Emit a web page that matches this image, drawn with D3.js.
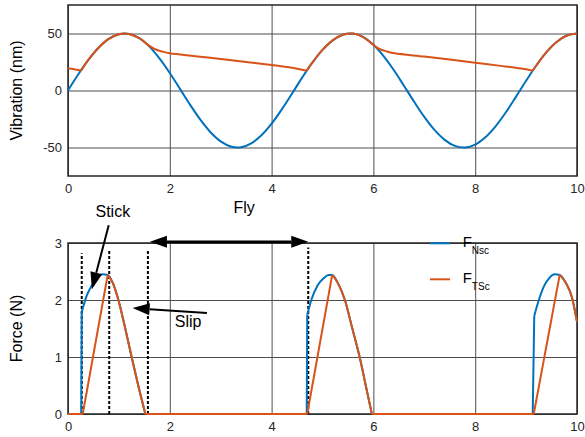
<!DOCTYPE html>
<html>
<head>
<meta charset="utf-8">
<script src="https://cdnjs.cloudflare.com/ajax/libs/d3/7.8.5/d3.min.js"></script>
<style>
  body { margin: 0; background: #fff; }
  svg { display: block; font-family: "Liberation Sans", Arial, sans-serif; }
  .grid line { stroke: #4d4d4d; stroke-width: 1; }
  .grid path, .ticks path { display: none; }
  .ticks text { fill: #262626; font-size: 13px; }
</style>
</head>
<body>
<div id="chart"></div>
<script>
var xTicks = [0, 2, 4, 6, 8, 10];
var vibTicks = [-50, 0, 50];
var forceTicks = [0, 1, 2, 3];

// vibration, blue (no coating), sampled every 0.2
var vibTime = [0, 0.2, 0.4, 0.6, 0.8, 1, 1.2, 1.4, 1.6, 1.8, 2, 2.2, 2.4, 2.6, 2.8, 3, 3.2, 3.4, 3.6, 3.8,
  4, 4.2, 4.4, 4.6, 4.8, 5, 5.2, 5.4, 5.6, 5.8, 6, 6.2, 6.4, 6.6, 6.8, 7, 7.2, 7.4, 7.6, 7.8,
  8, 8.2, 8.4, 8.6, 8.8, 9, 9.2, 9.4, 9.6, 9.8, 10];
var vibNsc = [0, 14.0, 26.8, 37.5, 45.3, 49.4, 49.6, 45.9, 38.5, 28.0, 15.4, 1.4, -12.6, -25.6, -36.6, -44.6, -49.2, -49.8, -46.4, -39.3,
  -29.1, -16.6, -2.8, 11.3, 24.4, 35.6, 44.0, 48.9, 49.9, 46.9, 40.1, 30.2, 18.0, 4.2, -9.8, -23.2, -34.6, -43.3, -48.6, -50.0,
  -47.4, -41.0, -31.4, -19.3, -5.6, 8.5, 21.9, 33.6, 42.6, 48.2, 50.0];

// vibration, orange (coated), split where the curve has a corner
var vibTsc = [
  [[0, 19.5], [0.26, 17.6]],
  [[0.26, 17.6], [0.4, 26.8], [0.6, 37.5], [0.8, 45.3], [1.0, 49.4], [1.2, 49.6], [1.4, 45.9], [1.58, 39.8],
   [1.7, 36.4], [1.85, 34.2], [2.0, 32.6], [2.5, 30.1], [3.0, 27.6], [3.5, 25.1], [4.0, 22.4], [4.4, 19.9], [4.69, 17.4]],
  [[4.69, 17.4], [4.8, 24.4], [5.0, 35.6], [5.2, 44.0], [5.4, 48.9], [5.6, 49.9], [5.8, 46.9], [6.0, 40.0],
   [6.12, 36.4], [6.27, 34.2], [6.42, 32.6], [7.0, 29.8], [7.5, 27.2], [8.0, 24.4], [8.5, 21.6], [8.9, 19.2], [9.13, 17.4]],
  [[9.13, 17.4], [9.2, 21.9], [9.4, 33.6], [9.6, 42.6], [9.8, 48.2], [10, 50.0]]
];

// contact force, blue F_Nsc
var forceNsc = [
  [[0, 0], [0.26, 0]],
  [[0.26, 0], [0.27, 1.79]],
  [[0.27, 1.79], [0.37, 2.08], [0.47, 2.26], [0.57, 2.38], [0.67, 2.45], [0.78, 2.44], [0.88, 2.3], [0.99, 2.0],
   [1.12, 1.52], [1.25, 1.0], [1.38, 0.5], [1.52, 0]],
  [[1.52, 0], [4.69, 0]],
  [[4.69, 0], [4.70, 1.74]],
  [[4.70, 1.74], [4.78, 2.0], [4.9, 2.25], [5.02, 2.38], [5.12, 2.44], [5.19, 2.44], [5.3, 2.3], [5.44, 2.0],
   [5.58, 1.52], [5.73, 1.0], [5.85, 0.5], [5.97, 0]],
  [[5.97, 0], [9.13, 0]],
  [[9.13, 0], [9.16, 1.72]],
  [[9.16, 1.72], [9.25, 2.0], [9.35, 2.24], [9.45, 2.38], [9.56, 2.45], [9.66, 2.44], [9.78, 2.3], [9.9, 2.05], [10, 1.62]]
];

// contact force, orange F_TSc
var forceTsc = [
  [[0, 0], [0.29, 0]],
  [[0.29, 0], [0.78, 2.44]],
  [[0.78, 2.44], [0.88, 2.3], [0.99, 2.0], [1.12, 1.52], [1.25, 1.0], [1.38, 0.5], [1.52, 0]],
  [[1.52, 0], [4.70, 0]],
  [[4.70, 0], [5.19, 2.44]],
  [[5.19, 2.44], [5.3, 2.3], [5.44, 2.0], [5.58, 1.52], [5.73, 1.0], [5.85, 0.5], [5.97, 0]],
  [[5.97, 0], [9.15, 0]],
  [[9.15, 0], [9.66, 2.44]],
  [[9.66, 2.44], [9.78, 2.3], [9.9, 2.05], [10, 1.62]]
];

// dotted markers in the force plot: x position and top
var phaseX = [0.27, 0.81, 1.57, 4.72];
var phaseTop = [2.82, 2.87, 2.87, 2.92];

var legendNames = ["Nsc", "TSc"];
var blue = "#0072bd", orange = "#d95319";

var svg = d3.select("#chart").append("svg")
  .attr("width", 585)
  .attr("height", 437);

var x1 = d3.scaleLinear().domain([0, 10]).range([68, 577]);
var y1 = d3.scaleLinear().domain([-75, 75]).range([176, 5]);
var x2 = d3.scaleLinear().domain([0, 10]).range([68, 577]);
var y2 = d3.scaleLinear().domain([0, 3]).range([414, 243]);

var plain = function(d) { return String(d); };

function panel(x, y, yTicks) {
  var top = y.range()[1], bottom = y.range()[0];
  var left = x.range()[0], right = x.range()[1];

  svg.append("g")
    .attr("class", "grid")
    .attr("transform", "translate(0," + bottom + ")")
    .call(d3.axisBottom(x).tickValues(xTicks).tickSize(-(bottom - top)).tickFormat(""));
  svg.append("g")
    .attr("class", "grid")
    .attr("transform", "translate(" + left + ",0)")
    .call(d3.axisLeft(y).tickValues(yTicks).tickSize(-(right - left)).tickFormat(""));

  svg.append("g")
    .attr("class", "ticks")
    .attr("transform", "translate(0," + bottom + ")")
    .call(d3.axisBottom(x).tickValues(xTicks).tickFormat(plain).tickSize(0).tickPadding(8));
  svg.append("g")
    .attr("class", "ticks")
    .attr("transform", "translate(" + left + ",0)")
    .call(d3.axisLeft(y).tickValues(yTicks).tickFormat(plain).tickSize(0).tickPadding(6));

  svg.append("rect")
    .attr("x", left)
    .attr("y", top)
    .attr("width", right - left)
    .attr("height", bottom - top)
    .style("fill", "none")
    .style("stroke", "#262626")
    .style("stroke-width", 1.5);
}

panel(x1, y1, vibTicks);
panel(x2, y2, forceTicks);

// top plot curves
svg.append("path")
  .datum(vibTime.map(function(t, i) { return [t, vibNsc[i]]; }))
  .attr("d", d3.line().x(function(d) { return x1(d[0]); }).y(function(d) { return y1(d[1]); }).curve(d3.curveCatmullRom))
  .style("fill", "none")
  .style("stroke", blue)
  .style("stroke-width", 2);

svg.append("g").selectAll("path")
  .data(vibTsc)
  .enter()
  .append("path")
  .attr("d", d3.line().x(function(d) { return x1(d[0]); }).y(function(d) { return y1(d[1]); }).curve(d3.curveCatmullRom))
  .style("fill", "none")
  .style("stroke", orange)
  .style("stroke-width", 2);

// bottom plot: dotted phase markers
svg.append("g").selectAll("line")
  .data(phaseX)
  .enter()
  .append("line")
  .attr("x1", function(d) { return x2(d); })
  .attr("x2", function(d) { return x2(d); })
  .attr("y1", y2(0))
  .attr("y2", function(d, i) { return y2(phaseTop[i]); })
  .style("stroke", "#000")
  .style("stroke-width", 2)
  .style("stroke-dasharray", "3,2");

var forceLine = d3.line()
  .x(function(d) { return x2(d[0]); })
  .y(function(d) { return y2(d[1]); })
  .curve(d3.curveMonotoneX);

svg.append("g").selectAll("path")
  .data(forceNsc)
  .enter()
  .append("path")
  .attr("d", forceLine)
  .style("fill", "none")
  .style("stroke", blue)
  .style("stroke-width", 2);

svg.append("g").selectAll("path")
  .data(forceTsc)
  .enter()
  .append("path")
  .attr("d", forceLine)
  .style("fill", "none")
  .style("stroke", orange)
  .style("stroke-width", 2);

// annotations
function arrow(p0, p1, both, width) {
  var a = [x2(p0[0]), y2(p0[1])], b = [x2(p1[0]), y2(p1[1])];
  var dx = b[0] - a[0], dy = b[1] - a[1], len = Math.hypot(dx, dy);
  var ux = dx / len, uy = dy / len, hl = 17, hw = 6;
  var s = both ? [a[0] + ux * hl, a[1] + uy * hl] : a;
  var e = [b[0] - ux * hl, b[1] - uy * hl];
  svg.append("line")
    .attr("x1", s[0]).attr("y1", s[1])
    .attr("x2", e[0]).attr("y2", e[1])
    .style("stroke", "#000")
    .style("stroke-width", width);
  function head(tip, vx, vy) {
    var bx = tip[0] - vx * hl, by = tip[1] - vy * hl;
    svg.append("path")
      .attr("d", "M" + tip[0] + "," + tip[1] +
        "L" + (bx - vy * hw) + "," + (by + vx * hw) +
        "L" + (bx + vy * hw) + "," + (by - vx * hw) + "Z")
      .style("fill", "#000");
  }
  head(b, ux, uy);
  if (both) head(a, -ux, -uy);
}

arrow([0.80, 3.31], [0.47, 2.19], false, 2);
arrow([2.73, 1.77], [1.27, 1.86], false, 2);
arrow([1.61, 3.02], [4.72, 3.02], true, 2.5);

var notes = [["Stick", 0.88, 3.46], ["Slip", 2.36, 1.53], ["Fly", 3.46, 3.52]];
svg.append("g").selectAll("text")
  .data(notes)
  .enter()
  .append("text")
  .attr("x", function(d) { return x2(d[1]); })
  .attr("y", function(d) { return y2(d[2]); })
  .attr("text-anchor", "middle")
  .style("font-size", "16px")
  .style("fill", "#000")
  .text(function(d) { return d[0]; });

// axis titles
svg.append("text")
  .attr("transform", "translate(22," + ((y1.range()[0] + y1.range()[1]) / 2) + ") rotate(-90)")
  .attr("text-anchor", "middle")
  .style("font-size", "16px")
  .style("fill", "#000")
  .text("Vibration (nm)");

svg.append("text")
  .attr("transform", "translate(22," + ((y2.range()[0] + y2.range()[1]) / 2) + ") rotate(-90)")
  .attr("text-anchor", "middle")
  .style("font-size", "16px")
  .style("fill", "#000")
  .text("Force (N)");

// legend
var legend = svg.append("g")
  .selectAll("g")
  .data(legendNames)
  .enter()
  .append("g")
  .attr("transform", function(d, i) { return "translate(430," + (243.3 + i * 36) + ")"; });

legend.append("line")
  .attr("x1", 0).attr("x2", 20)
  .style("stroke", function(d, i) { return i == 0 ? blue : orange; })
  .style("stroke-width", 2);

var lt = legend.append("text")
  .attr("x", 32.7)
  .attr("y", 3.5)
  .style("font-size", "15px")
  .style("fill", "#000")
  .text("F");
lt.append("tspan")
  .attr("dy", 6.8)
  .style("font-size", "10px")
  .text(function(d) { return d; });
</script>
</body>
</html>
